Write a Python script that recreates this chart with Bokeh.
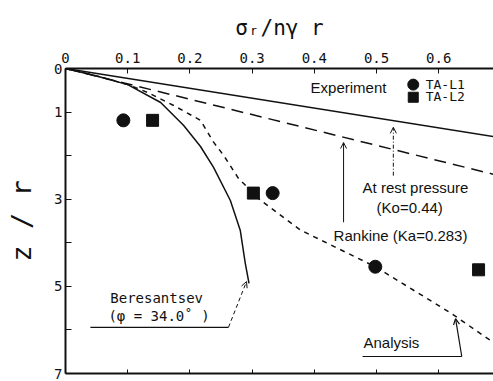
from bokeh.plotting import figure
from bokeh.models import Range1d, LinearAxis, FixedTicker, Arrow, OpenHead
from bokeh.core.properties import value
from bokeh.embed import file_html
from bokeh.resources import INLINE

# Measured lateral pressure (sigma_r / n gamma r) against depth z / r
l1_x = [0.093, 0.333, 0.498]
l1_z = [1.19, 2.86, 4.55]
l2_x = [0.140, 0.302, 0.664]
l2_z = [1.19, 2.86, 4.62]

# Theoretical lines
at_rest_x = [0.0, 0.70]
at_rest_z = [0.0, 1.59]
rankine_x = [0.0, 0.70]
rankine_z = [0.0, 2.47]

bere_x = [0, 0.050, 0.100, 0.153, 0.190, 0.217, 0.238, 0.265, 0.281, 0.289, 0.295]
bere_z = [0, 0.17, 0.37, 0.78, 1.31, 1.79, 2.27, 3.03, 3.72, 4.47, 4.93]

ana_x = [0, 0.05, 0.100, 0.132, 0.174, 0.217, 0.238, 0.254, 0.278, 0.313, 0.378, 0.498, 0.619, 0.690]
ana_z = [0, 0.17, 0.37, 0.55, 0.85, 1.19, 1.69, 1.99, 2.52, 3.02, 3.71, 4.55, 5.61, 6.31]

x_ticks = [0, 0.1, 0.2, 0.3, 0.4, 0.5, 0.6]
x_tick_labels = {0: "0", 0.1: "0.1", 0.2: "0.2", 0.3: "0.3", 0.4: "0.4", 0.5: "0.5", 0.6: "0.6"}
z_ticks = [0, 1, 3, 5, 7]
z_minor_ticks = [2, 4, 6]

MONO = "DejaVu Sans Mono"
SANS = "Liberation Sans"
INK = "#111111"

p = figure(width=493, height=381, output_backend="svg", toolbar_location=None,
           x_range=Range1d(0, 0.688), y_range=Range1d(7, 0),
           x_axis_location="above", min_border_left=65, min_border_top=68,
           min_border_right=0, min_border_bottom=8)
p.grid.visible = False
p.outline_line_color = None
p.background_fill_color = "white"
p.border_fill_color = "white"

# top axis with labels
xa = p.xaxis[0]
xa.ticker = FixedTicker(ticks=x_ticks)
xa.major_label_overrides = x_tick_labels
xa.major_tick_in = 5
xa.major_tick_out = 0
xa.minor_tick_line_color = None
xa.axis_line_width = 2
xa.axis_line_color = INK
xa.major_tick_line_color = INK
xa.major_label_text_font = MONO
xa.major_label_text_font_size = "14px"
xa.major_label_text_color = INK
xa.major_label_standoff = 6
xa.axis_label = "σ\u1d63/nγ r"
xa.axis_label_text_font = MONO
xa.axis_label_text_font_size = "21px"
xa.axis_label_text_font_style = "normal"
xa.axis_label_text_color = INK
xa.axis_label_standoff = 10

# bottom axis: unlabelled ticks only
xb = LinearAxis(ticker=FixedTicker(ticks=[], minor_ticks=x_ticks[1:]),
                minor_tick_in=4, minor_tick_out=0, minor_tick_line_color=INK,
                major_tick_line_color=None, axis_line_width=2, axis_line_color=INK)
p.add_layout(xb, "below")

ya = p.yaxis[0]
ya.ticker = FixedTicker(ticks=z_ticks, minor_ticks=z_minor_ticks)
ya.major_tick_in = 6
ya.major_tick_out = 0
ya.minor_tick_in = 6
ya.minor_tick_out = 0
ya.minor_tick_line_color = INK
ya.axis_line_width = 2
ya.axis_line_color = INK
ya.major_tick_line_color = INK
ya.major_label_text_font = MONO
ya.major_label_text_font_size = "14px"
ya.major_label_text_color = INK
ya.major_label_standoff = 3
ya.axis_label = "z / r"
ya.axis_label_text_font = MONO
ya.axis_label_text_font_size = "27px"
ya.axis_label_text_font_style = "normal"
ya.axis_label_text_color = INK
ya.axis_label_standoff = 14

# curves
p.line(at_rest_x, at_rest_z, line_color=INK, line_width=1.5)
p.line(rankine_x, rankine_z, line_color=INK, line_width=1.5, line_dash="12 7")
p.line(bere_x, bere_z, line_color=INK, line_width=1.5)
p.line(ana_x, ana_z, line_color=INK, line_width=1.5, line_dash="5 5")

# experiments
p.scatter(l1_x, l1_z, marker="circle", size=13, fill_color=INK, line_color=INK)
p.scatter(l2_x, l2_z, marker="square", size=12, fill_color=INK, line_color=INK)

# legend
p.text([0.394], [0.44], text=["Experiment"], text_font=value(SANS), text_font_size="15px",
       text_baseline="middle", text_color=INK)
p.scatter([0.559], [0.37], marker="circle", size=11, fill_color=INK, line_color=INK)
p.scatter([0.559], [0.66], marker="square", size=10, fill_color=INK, line_color=INK)
p.text([0.579, 0.579], [0.37, 0.65], text=["TA-L1", "TA-L2"], text_font=value(MONO),
       text_font_size="13px", text_baseline="middle", text_color=INK)

# annotations
p.text([0.4775], [2.73], text=["At rest pressure"], text_font=value(SANS), text_font_size="15px",
       text_baseline="middle", text_color=INK)
p.text([0.50], [3.19], text=["(Ko=0.44)"], text_font=value(SANS), text_font_size="15px",
       text_baseline="middle", text_color=INK)
p.text([0.431], [3.83], text=["Rankine (Ka=0.283)"], text_font=value(SANS), text_font_size="15px",
       text_baseline="middle", text_color=INK)
p.text([0.479], [6.29], text=["Analysis"], text_font=value(SANS), text_font_size="15px",
       text_baseline="middle", text_color=INK)
p.text([0.072], [5.26], text=["Beresantsev"], text_font=value(MONO), text_font_size="14px",
       text_baseline="middle", text_color=INK)
p.text([0.069], [5.67], text=["(φ = 34.0\u02da )"], text_font=value(MONO), text_font_size="14px",
       text_baseline="middle", text_color=INK)

# leaders and arrows
p.line([0.040, 0.262], [5.94, 5.94], line_color=INK, line_width=1.2)
p.add_layout(Arrow(x_start=0.262, y_start=5.94, x_end=0.291, y_end=4.89,
                   line_color=INK, line_width=1, line_dash="4 3",
                   end=OpenHead(size=6, line_color=INK, line_width=1)))
p.line([0.4775, 0.637], [6.61, 6.61], line_color=INK, line_width=1.2)
p.add_layout(Arrow(x_start=0.637, y_start=6.61, x_end=0.627, y_end=5.74,
                   line_color=INK, line_width=1.2,
                   end=OpenHead(size=6, line_color=INK, line_width=1.2)))
p.add_layout(Arrow(x_start=0.447, y_start=3.53, x_end=0.447, y_end=1.70,
                   line_color=INK, line_width=1,
                   end=OpenHead(size=6, line_color=INK, line_width=1)))
p.add_layout(Arrow(x_start=0.527, y_start=2.46, x_end=0.527, y_end=1.35,
                   line_color=INK, line_width=1, line_dash="4 2 1 2",
                   end=OpenHead(size=6, line_color=INK, line_width=1)))

open("out.html", "w").write(file_html(p, INLINE))
